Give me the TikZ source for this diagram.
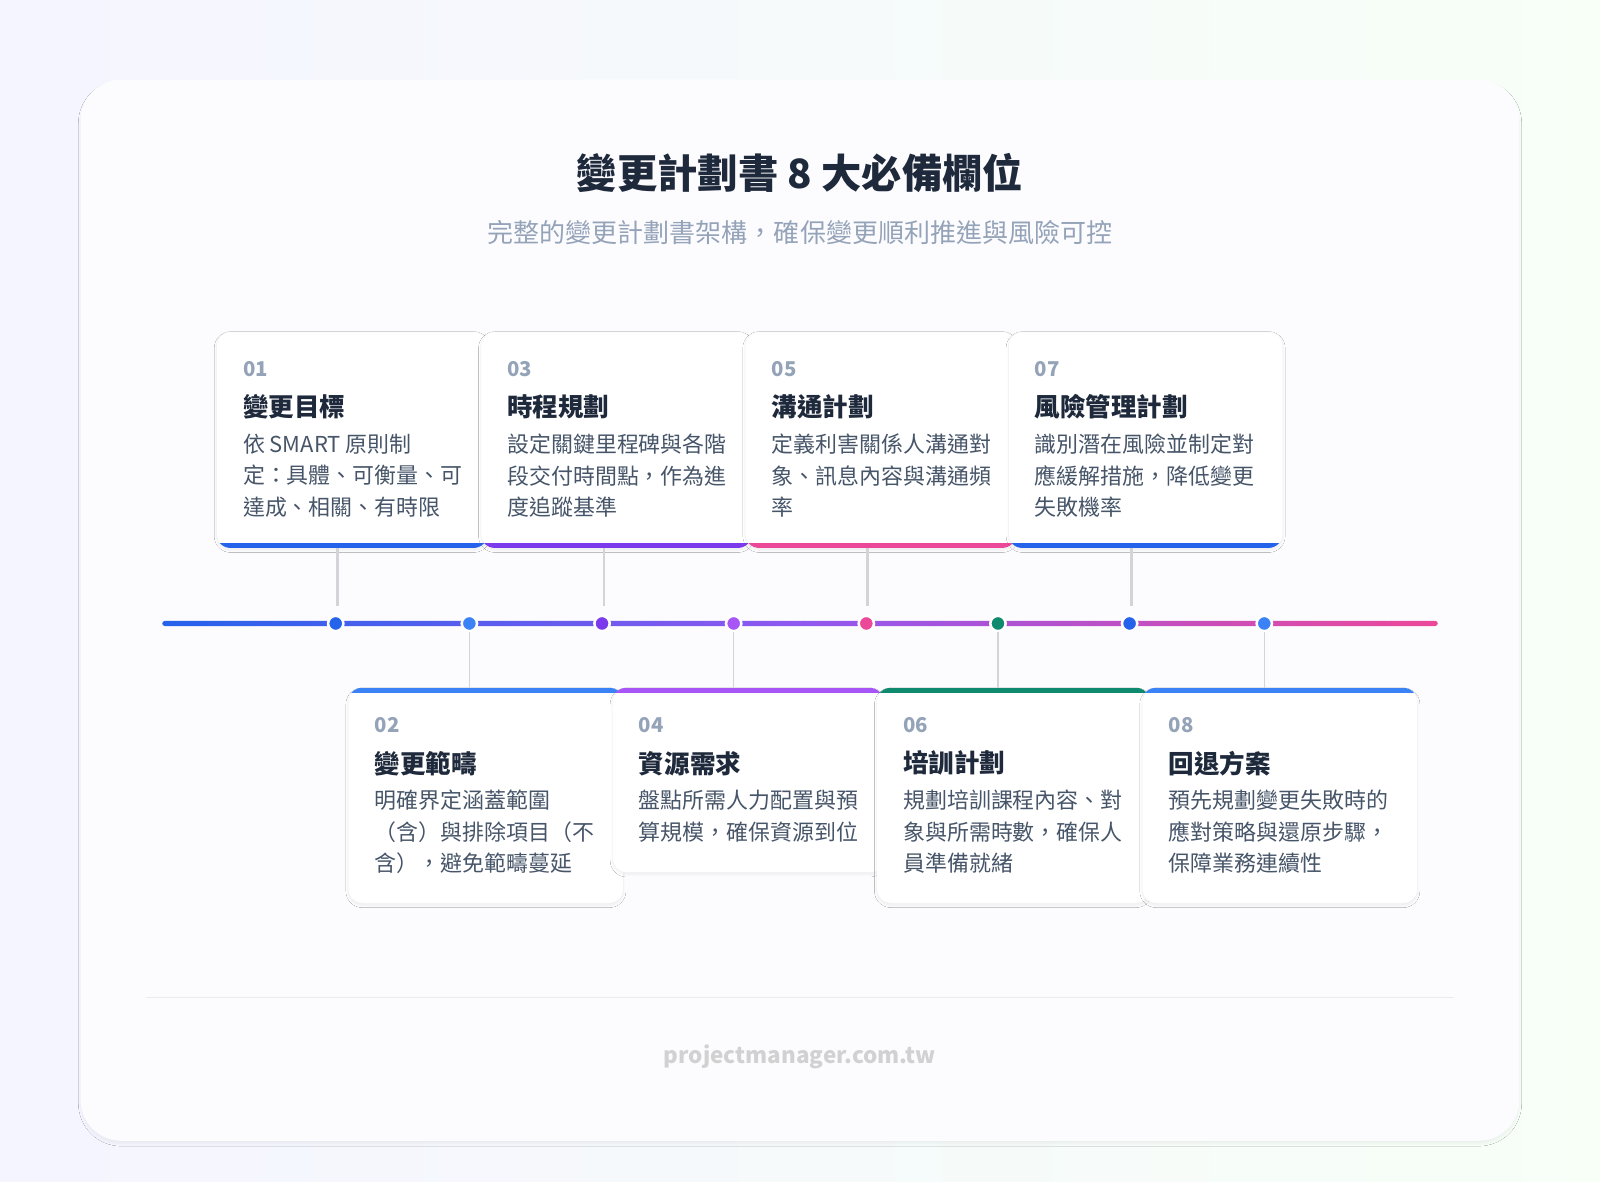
\documentclass[tikz,border=0pt]{standalone}
\usepackage{fontspec}
\setmainfont{Noto Sans CJK TC}
\usetikzlibrary{shadows.blur}
\definecolor{navy}{HTML}{1E293B}
\definecolor{subgray}{HTML}{94A3B8}
\definecolor{bodygray}{HTML}{475569}
\definecolor{numgray}{HTML}{94A3B8}
\definecolor{cblue}{HTML}{2563EB}
\definecolor{lblue}{HTML}{3B82F6}
\definecolor{cpurple}{HTML}{7C3AED}
\definecolor{lpurple}{HTML}{A855F7}
\definecolor{cpink}{HTML}{EC4899}
\definecolor{cteal}{HTML}{0F8A6E}
\definecolor{stem}{HTML}{D4D4D8}

% card: name, left x, top y, width, height, colour, bar at top (t) or bottom (b), number, title
\newcommand{\stepcard}[9]{%
  \node[card, minimum width=#4, minimum height=#5, anchor=north west] (#1) at (#2,#3) {};
  \begin{scope}
    \clip[rounded corners=14pt] (#2,#3) rectangle ++(#4,#5);
    \ifx t#7
      \fill[#6] (#2,#3) rectangle ++(#4,5);
    \else
      \fill[#6] (#2,#3+#5-5) rectangle ++(#4,5);
    \fi
  \end{scope}
  \node[num] at (#2+26,#3+37) {#8};
  \node[head] at (#2+26,#3+74) {#9};
}
\newcommand{\cardbody}[3]{\node[body] at (#1+26,#2+100) {#3};}

\begin{document}
\begin{tikzpicture}[x=1pt, y=-1pt,
    card/.style={draw=black!6, fill=white, rounded corners=14pt, inner sep=0,
      blur shadow={shadow blur steps=8, shadow xshift=0pt, shadow yshift=-2pt, shadow opacity=6}},
    num/.style={anchor=west, inner sep=0, text=numgray, font=\fontsize{20}{24}\selectfont\bfseries},
    head/.style={anchor=west, inner sep=0, text=navy, font=\fontsize{25}{28}\selectfont\bfseries},
    body/.style={anchor=north west, inner sep=0, align=left, text=bodygray, font=\fontsize{21.5}{31}\selectfont},
    dot/.style={circle, fill=#1, draw=white, line width=2.5pt, minimum size=15pt, inner sep=0},
    link/.style={draw=stem, line width=2.5pt}]

  \useasboundingbox (0,0) rectangle (1568,1158);
  \shade[left color=blue!4!white, right color=green!3!white] (0,0) rectangle (1568,1158);
  \fill[white!60!blue!3!white, rounded corners=40pt,
    blur shadow={shadow blur steps=8, shadow xshift=0pt, shadow yshift=-3pt, shadow opacity=5}]
    (79,78) rectangle (1489,1118);

  \node[text=navy, font=\fontsize{39.5}{44}\selectfont\bfseries] (title) at (784,170) {變更計劃書 8 大必備欄位};
  \node[text=subgray, font=\fontsize{25.5}{30}\selectfont] (sub) at (784,228) {完整的變更計劃書架構，確保變更順利推進與風險可控};

  % timeline
  \shade[left color=cblue, right color=cpink, middle color=cpurple!85!white, rounded corners=2.5pt]
    (159,608.5) rectangle (1409,613.5);

  % top cards
  \stepcard{c1}{212}{325}{266}{212}{cblue}{b}{01}{變更目標}
  \cardbody{212}{325}{依 SMART 原則制\\定：具體、可衡量、可\\達成、相關、有時限}
  \stepcard{c3}{471}{325}{266}{212}{cpurple}{b}{03}{時程規劃}
  \cardbody{471}{325}{設定關鍵里程碑與各階\\段交付時間點，作為進\\度追蹤基準}
  \stepcard{c5}{730}{325}{266}{212}{cpink}{b}{05}{溝通計劃}
  \cardbody{730}{325}{定義利害關係人溝通對\\象、訊息內容與溝通頻\\率}
  \stepcard{c7}{988}{325}{269}{212}{cblue}{b}{07}{風險管理計劃}
  \cardbody{988}{325}{識別潛在風險並制定對\\應緩解措施，降低變更\\失敗機率}

  % bottom cards
  \stepcard{c2}{341}{674}{270}{211}{lblue}{t}{02}{變更範疇}
  \cardbody{341}{674}{明確界定涵蓋範圍\\（含）與排除項目（不\\含），避免範疇蔓延}
  \stepcard{c4}{600}{674}{266}{181}{lpurple}{t}{04}{資源需求}
  \cardbody{600}{674}{盤點所需人力配置與預\\算規模，確保資源到位}
  \stepcard{c6}{859}{674}{268}{211}{cteal}{t}{06}{培訓計劃}
  \cardbody{859}{674}{規劃培訓課程內容、對\\象與所需時數，確保人\\員準備就緒}
  \stepcard{c8}{1119}{674}{270}{211}{lblue}{t}{08}{回退方案}
  \cardbody{1119}{674}{預先規劃變更失敗時的\\應對策略與還原步驟，\\保障業務連續性}

  % dots
  \coordinate (s1) at (331,537); \coordinate (s3) at (592,537);
  \coordinate (s5) at (850,537); \coordinate (s7) at (1109,537);
  \node[dot=cblue]   (d1) at (329,611) {};
  \node[dot=lblue]   (d2) at (460,611) {};
  \node[dot=cpurple] (d3) at (590,611) {};
  \node[dot=lpurple] (d4) at (719,611) {};
  \node[dot=cpink]   (d5) at (849,611) {};
  \node[dot=cteal]   (d6) at (978,611) {};
  \node[dot=cblue]   (d7) at (1107,611) {};
  \node[dot=lblue]   (d8) at (1239,611) {};

  % connectors
  \draw[link] (s1) -- (331,594);
  \draw[link] (s3) -- (592,594);
  \draw[link] (s5) -- (850,594);
  \draw[link] (s7) -- (1109,594);
  \draw[draw=stem, line width=1.5pt] (d2) -- (460,674);
  \draw[draw=stem, line width=1.5pt] (d4) -- (719,674);
  \draw[draw=stem, line width=1.5pt] (d6) -- (978,674);
  \draw[draw=stem, line width=1.5pt] (d8) -- (1239,674);

  % footer
  \draw[black!8, line width=1pt] (143,978) -- (1425,978);
  \node[text=black!18, font=\fontsize{22}{26}\selectfont\bfseries] (foot) at (784,1036) {projectmanager.com.tw};
\end{tikzpicture}
\end{document}
